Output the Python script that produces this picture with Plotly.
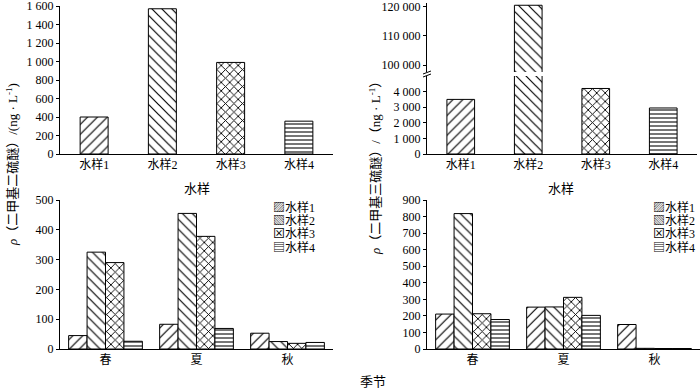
import plotly.graph_objects as go

W, H = 700, 389

samples = ["水样1", "水样2", "水样3", "水样4"]
seasons = ["春", "夏", "秋"]

# Top panels: totals per water sample
dmds_total = [400, 1570, 990, 355]
dmts_total = [3500, 120500, 4200, 2950]

# Bottom-left: DMDS by season for each sample
dmds_s1 = [45, 83, 53]
dmds_s2 = [325, 455, 25]
dmds_s3 = [290, 378, 19]
dmds_s4 = [26, 69, 22]

# Bottom-right: DMTS by season for each sample
dmts_s1 = [211, 253, 148]
dmts_s2 = [818, 254, 4]
dmts_s3 = [213, 312, 3]
dmts_s4 = [178, 203, 3]

# Tick labels
tl_vals = [0, 200, 400, 600, 800, 1000, 1200, 1400, 1600]
tl_text = ["0", "200", "400", "600", "800", "1 000", "1 200", "1 400", "1 600"]
tr_low_vals = [0, 1000, 2000, 3000, 4000]
tr_low_text = ["0", "1 000", "2 000", "3 000", "4 000"]
tr_up_vals = [100000, 110000, 120000]
tr_up_text = ["100 000", "110 000", "120 000"]
bl_vals = [0, 100, 200, 300, 400, 500]
br_vals = [0, 100, 200, 300, 400, 500, 600, 700, 800, 900]

# Legend glyphs for each sample's hatch
legend_glyphs = ["▨", "▧", "⊠", "▤"]

shapes_pat = ["/", "\\", "x", "-"]
pat_sizes = [7, 7, 6, 4]
pat_solid = [0.17, 0.17, 0.28, 0.27]

FONT = "'Liberation Serif', 'Times New Roman', 'Noto Sans CJK SC', serif"


def fx(px):
    return px / W


def fy(py):
    return 1 - py / H


def marker_for(shape, size, solid):
    return dict(color="white", line=dict(color="black", width=1),
                pattern=dict(shape=shape, fgcolor="black", bgcolor="white",
                             size=size, solidity=solid, fillmode="replace"))


fig = go.Figure()

# Top-left
fig.add_trace(go.Bar(x=samples, y=dmds_total, xaxis="x", yaxis="y", width=0.41,
                     marker=marker_for(shapes_pat, pat_sizes, pat_solid),
                     showlegend=False))

# Top-right (lower and upper segments of broken axis)
for ya in ["y2", "y3"]:
    fig.add_trace(go.Bar(x=samples, y=dmts_total, xaxis="x2", yaxis=ya, width=0.41,
                         marker=marker_for(shapes_pat, pat_sizes, pat_solid),
                         showlegend=False))

# Bottom-left
for i, vals in enumerate([dmds_s1, dmds_s2, dmds_s3, dmds_s4]):
    fig.add_trace(go.Bar(x=seasons, y=vals, name=samples[i], xaxis="x3", yaxis="y4",
                         marker=marker_for(shapes_pat[i], pat_sizes[i], pat_solid[i]),
                         showlegend=False))

# Bottom-right
for i, vals in enumerate([dmts_s1, dmts_s2, dmts_s3, dmts_s4]):
    fig.add_trace(go.Bar(x=seasons, y=vals, name=samples[i], xaxis="x4", yaxis="y5",
                         marker=marker_for(shapes_pat[i], pat_sizes[i], pat_solid[i]),
                         showlegend=False))

tickfont = dict(family=FONT, size=12, color="black")

xcommon = dict(type="category", showline=True, linecolor="black", linewidth=1,
               ticks="", showgrid=False, zeroline=False, tickfont=tickfont,
               automargin=False, ticklabeloverflow="allow")
ycommon = dict(showline=True, linecolor="black", linewidth=1, ticks="outside",
               ticklen=3, tickcolor="black", showgrid=False, zeroline=False,
               tickfont=tickfont, tickmode="array", automargin=False,
               ticklabeloverflow="allow")

fig.update_layout(
    width=W, height=H,
    margin=dict(l=0, r=0, t=0, b=0, pad=0),
    paper_bgcolor="white", plot_bgcolor="white",
    barmode="group", bargap=0.19, bargroupgap=0,
    showlegend=False,
    font=dict(family=FONT, size=12, color="black"),
    xaxis=dict(xcommon, domain=[fx(60), fx(333)], anchor="y"),
    yaxis=dict(ycommon, domain=[fy(154), fy(6)], anchor="x", range=[0, 1600],
               tickvals=tl_vals, ticktext=tl_text),
    xaxis2=dict(xcommon, domain=[fx(427), fx(697)], anchor="y2"),
    yaxis2=dict(ycommon, domain=[fy(154), fy(76)], anchor="x2", range=[0, 5000],
                tickvals=tr_low_vals, ticktext=tr_low_text),
    yaxis3=dict(ycommon, domain=[fy(72), fy(3)], anchor="x2", range=[97700, 121270],
                tickvals=tr_up_vals, ticktext=tr_up_text),
    xaxis3=dict(xcommon, domain=[fx(60), fx(333)], anchor="y4"),
    yaxis4=dict(ycommon, domain=[fy(349), fy(200)], anchor="x3", range=[0, 500],
                tickvals=bl_vals, ticktext=[str(v) for v in bl_vals]),
    xaxis4=dict(xcommon, domain=[fx(427), fx(700)], anchor="y5"),
    yaxis5=dict(ycommon, domain=[fy(349), fy(200)], anchor="x4", range=[0, 900],
                tickvals=br_vals, ticktext=[str(v) for v in br_vals]),
)

ann_font = dict(family=FONT, size=12, color="black")
title_font = dict(family=FONT, size=13, color="black")
annotations = [
    dict(x=fx(12), y=fy(165), text="<i>ρ</i>（二甲基二硫醚）/(ng · L<sup>-1</sup>)",
         textangle=-90, font=title_font),
    dict(x=fx(375), y=fy(165), text="<i>ρ</i>（二甲基三硫醚）/（ng · L<sup>-1</sup>）",
         textangle=-90, font=title_font),
    dict(x=fx(197), y=fy(188), text="水样", font=title_font),
    dict(x=fx(561), y=fy(188), text="水样", font=title_font),
    dict(x=fx(373), y=fy(381), text="季节", font=title_font),
]
for a in annotations:
    a.update(xanchor="center")

# Legends (glyph + sample name), one line per sample
for lx in (271, 651):
    for i, name in enumerate(samples):
        annotations.append(dict(x=fx(lx), y=fy(207 + 13.5 * i),
                                text=legend_glyphs[i] + name, xanchor="left",
                                font=ann_font))

for a in annotations:
    a.update(xref="paper", yref="paper", showarrow=False, yanchor="middle")
fig.update_layout(annotations=annotations)

# Axis-break marks
fig.add_shape(type="line", xref="paper", yref="paper",
              x0=fx(423), y0=fy(77), x1=fx(431), y1=fy(74),
              line=dict(color="black", width=1))
fig.add_shape(type="line", xref="paper", yref="paper",
              x0=fx(423), y0=fy(74), x1=fx(431), y1=fy(71),
              line=dict(color="black", width=1))

fig.write_html("out.html",
               config={"displayModeBar": False},
               post_script="document.body.style.margin='0';"
                           "document.body.style.overflow='hidden';")
